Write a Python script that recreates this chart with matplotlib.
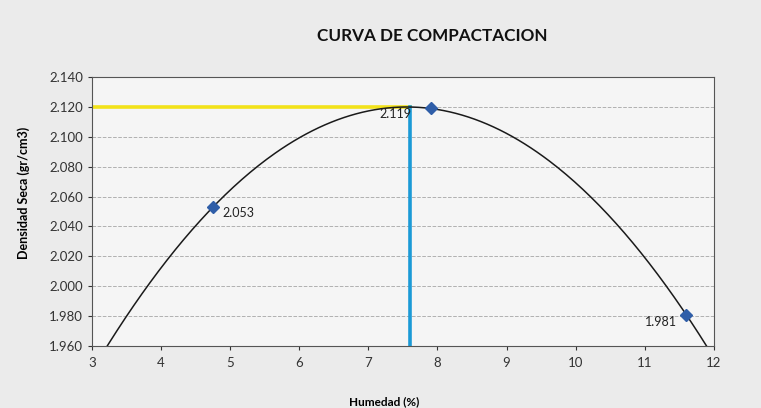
import numpy as np
import matplotlib.pyplot as plt

# Datos del ensayo
humedad = [4.75, 7.9, 11.6]
densidad = [2.053, 2.119, 1.981]
etiquetas = ["2.053", "2.119", "1.981"]
hum_optima = 7.6
dens_maxima = 2.120

yticks = [1.960, 1.980, 2.000, 2.020, 2.040, 2.060, 2.080, 2.100, 2.120, 2.140]
xticks = [3, 4, 5, 6, 7, 8, 9, 10, 11, 12]

plt.rcParams['font.family'] = ['Lato', 'DejaVu Sans']

fig = plt.figure(figsize=(7.61, 4.08), dpi=100, facecolor='#ebebeb')
ax = fig.add_axes([0.121, 0.152, 0.817, 0.659])
ax.set_facecolor('#f5f5f5')

# curva de tendencia polinomica (grado 2)
coef = np.polyfit(humedad, densidad, 2)
xs = np.linspace(3, 12, 300)
ax.plot(xs, np.polyval(coef, xs), color='#1a1a1a', lw=1.1, zorder=3)

# lineas de densidad maxima / humedad optima
ax.plot([3, hum_optima], [dens_maxima, dens_maxima], color='#f2e21a', lw=2.6, zorder=2)
ax.plot([hum_optima, hum_optima], [1.960, dens_maxima], color='#1b9ad6', lw=2.6, zorder=2)

ax.plot(humedad, densidad, linestyle='', marker='D', ms=6, color='#2f5ea8', zorder=4)

# etiquetas de datos
ax.annotate(etiquetas[0], (humedad[0], densidad[0]), xytext=(7, -7),
            textcoords='offset points', fontsize=9, color='#222222')
ax.annotate(etiquetas[1], (humedad[1], densidad[1]), xytext=(-37, -7),
            textcoords='offset points', fontsize=9, color='#222222')
ax.annotate(etiquetas[2], (humedad[2], densidad[2]), xytext=(-30, -8),
            textcoords='offset points', fontsize=9, color='#222222')

ax.set_xlim(3, 12)
ax.set_ylim(1.960, 2.140)
ax.set_xticks(xticks)
ax.set_yticks(yticks)
ax.set_yticklabels([f"{v:.3f}" for v in yticks])
ax.tick_params(labelsize=9.5, colors='#333333', length=3)
ax.tick_params(axis='x', pad=5)
ax.grid(axis='y', linestyle='--', color='#b0b0b0', lw=0.7)
for s in ax.spines.values():
    s.set_color('#555555')
    s.set_linewidth(0.8)

ax.set_xlabel('Humedad (%)', fontsize=8.5, fontweight='bold')
ax.xaxis.set_label_coords(0.47, -0.185)
ax.set_ylabel('Densidad Seca (gr/cm3)', fontsize=9, fontweight='bold')
ax.yaxis.set_label_coords(-0.1, 0.57)
fig.text(0.568, 0.912, 'CURVA DE COMPACTACION', ha='center', va='center',
         fontsize=12.3, fontweight='bold', color='#111111')

fig.savefig('out.png', dpi=100, facecolor=fig.get_facecolor())
